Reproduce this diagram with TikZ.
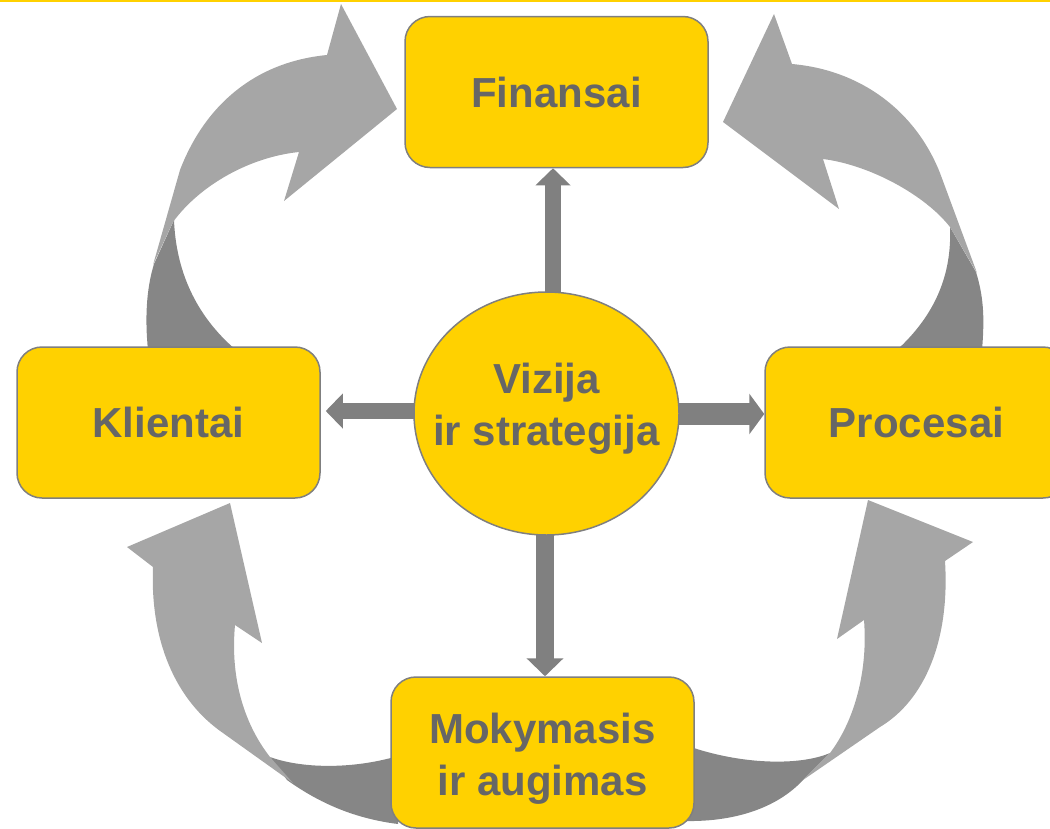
\documentclass[tikz,border=0pt]{standalone}
\usepackage{fontspec}
\setmainfont{Liberation Sans}
\usetikzlibrary{shapes.geometric,arrows.meta,backgrounds}
\definecolor{boxyellow}{HTML}{FFD100}
\definecolor{boxborder}{HTML}{7F7F7F}
\definecolor{txtgray}{HTML}{666666}
\definecolor{lightarr}{HTML}{A6A6A6}
\definecolor{darkarr}{HTML}{868686}
\definecolor{straightarr}{HTML}{808080}
\tikzset{
  boxnode/.style={draw=boxborder, line width=1.5pt, fill=boxyellow, rounded corners=25pt,
    minimum width=303pt, minimum height=151pt, inner sep=0pt, text=txtgray,
    font=\fontsize{42}{52}\selectfont\bfseries, align=center},
  circnode/.style={draw=boxborder, line width=1.5pt, fill=boxyellow, ellipse,
    minimum width=265pt, minimum height=243pt, inner sep=0pt},
  lbl/.style={text=txtgray, font=\fontsize{42}{52}\selectfont\bfseries, align=center, inner sep=0pt},
  sarr/.style={draw=straightarr, fill=none},
  lightpart/.style={fill=lightarr},
  darkpart/.style={fill=darkarr}
}
\begin{document}
\begin{tikzpicture}[x=1pt,y=-1pt]
\useasboundingbox (0,0) rectangle (1050,828);
\fill[boxyellow] (0,0) rectangle (1050,2);

% ---- curved arrows: dark (back) parts first, then light (front) parts
% top-left: Klientai -> Finansai
\fill[darkpart] (148,350) .. controls (145,320) and (146,290) .. (154,264) -- (174,220)
  .. controls (176,270) and (195,315) .. (236,350) -- cycle;
\fill[lightpart] (153,265) -- (180,170) .. controls (205,105) and (255,62) .. (327,55)
  -- (341,4) -- (397,109) -- (284,201) -- (299,152)
  .. controls (250,157) and (200,185) .. (173,222) -- cycle;
% top-right: Procesai -> Finansai
\fill[darkpart] (982,350) .. controls (985,315) and (983,295) .. (976,272) -- (950,227)
  .. controls (952,275) and (935,315) .. (897,350) -- cycle;
\fill[lightpart] (977,273) -- (940,173) .. controls (915,110) and (860,70) .. (792,64)
  -- (774,14) -- (723,122) -- (839,209) -- (823,159)
  .. controls (870,165) and (925,195) .. (950,227) -- cycle;
% bottom-left: Mokymasis -> Klientai
\fill[darkpart] (270,757) .. controls (300,768) and (350,770) .. (398,756) -- (398,824)
  .. controls (350,818) and (315,800) .. (287,780) -- cycle;
\fill[lightpart] (153,567) -- (127,547) -- (230,503) -- (262,643) -- (235,625)
  .. controls (230,680) and (245,725) .. (270,757) -- (293,783) -- (223,733)
  .. controls (175,700) and (150,640) .. cycle;
% bottom-right: Mokymasis -> Procesai
\fill[darkpart] (830,753) .. controls (800,766) and (740,765) .. (685,745) -- (685,821)
  .. controls (740,822) and (780,805) .. (803,780) -- cycle;
\fill[lightpart] (868,500) -- (973,542) -- (945,561) .. controls (950,640) and (925,700) .. (880,727)
  -- (803,780) -- (830,753) .. controls (855,720) and (868,670) .. (864,620)
  -- (837,639) -- cycle;

% ---- nodes
\node[boxnode] (fin) at (556.5,92) {Finansai};
\node[boxnode] (kli) at (168.5,422.5) {Klientai};
\node[boxnode] (pro) at (916.5,422.5) {Procesai};
\node[boxnode] (mok) at (542.5,752.5) {};
\node[lbl] (moklbl) at (542.5,758.5) {Mokymasis\\ir augimas};
\node[circnode] (circ) at (546.5,413.5) {};
\node[lbl] (circlbl) at (546.5,408.5) {Vizija\\ir strategija};

% ---- straight arrows from the centre
\coordinate (ux) at (553,0);
\coordinate (dx) at (545,0);
\coordinate (ly) at (0,411);
\coordinate (ry) at (0,414);
\begin{scope}[on background layer]
\draw[sarr, line width=16pt, -{Triangle[width=34pt,length=17pt]}] (circ.center -| ux) -- (fin.south -| ux);
\draw[sarr, line width=18pt, -{Triangle[width=36pt,length=18pt]}] (circ.center -| dx) -- (mok.north -| dx);
\draw[sarr, line width=16pt, -{Triangle[width=34pt,length=17pt]}, shorten >=5pt] (circ.center |- ly) -- (kli.east |- ly);
\draw[sarr, line width=22pt, -{Triangle[width=40pt,length=15pt]}] (circ.center |- ry) -- (pro.west |- ry);
\end{scope}
\end{tikzpicture}
\end{document}
